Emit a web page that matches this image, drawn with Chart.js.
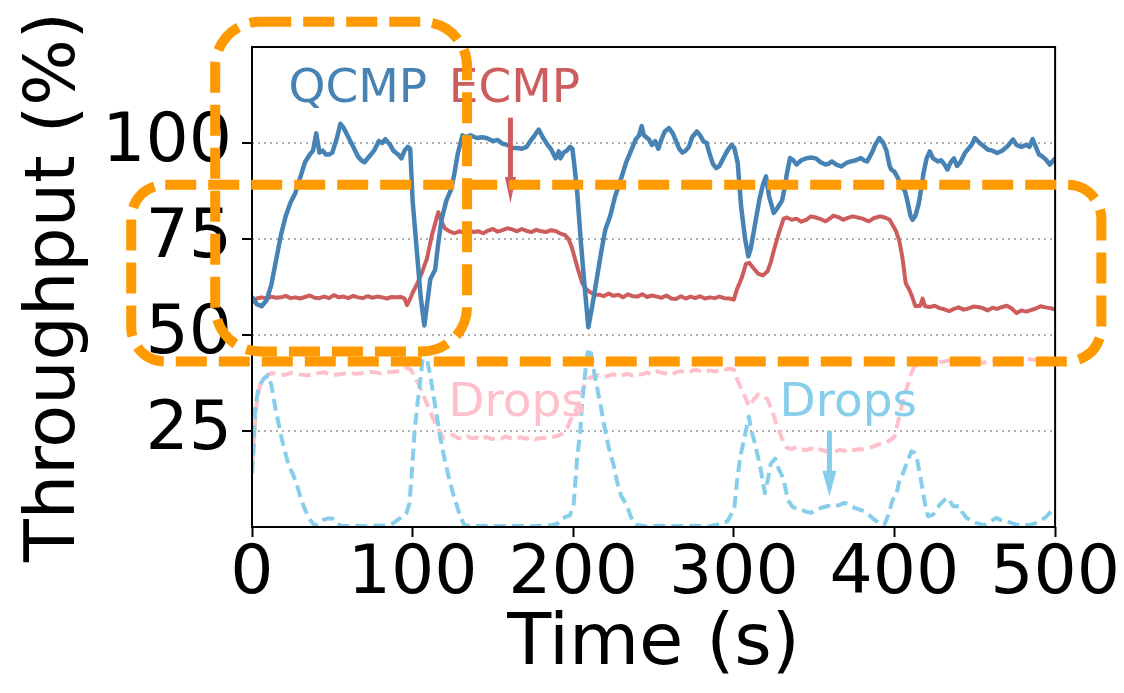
<!DOCTYPE html>
<html>
<head>
<meta charset="utf-8">
<script src="https://cdn.jsdelivr.net/npm/chart.js@4.4.1/dist/chart.umd.min.js"></script>
<style>
  html, body { margin: 0; padding: 0; background: #fff; }
</style>
</head>
<body>
<canvas id="chart" width="1124" height="693"></canvas>
<script>
// time (s) / throughput (%)
const qcmpTime = [0, 3, 6, 9, 12, 15, 18, 21, 24, 27, 30, 33, 36, 38, 40, 42, 44, 46, 48, 50, 53, 55, 57, 60, 63, 66, 68, 70, 73, 76, 79, 81, 83, 86, 88, 91, 93, 95, 97, 98.5,
  100, 103, 105, 107.3, 109, 111, 114, 116, 118, 121, 124, 126, 128, 131, 133, 136, 140, 143, 146, 150, 153, 156, 159, 162, 165, 168, 171, 174, 176, 178.5, 181, 184, 186, 189, 191, 192, 194, 196, 198, 199.5,
  201, 202.5, 204.6, 207, 209.4, 212, 215, 218, 220, 223, 226, 230, 233, 236, 239, 241, 242.6, 244, 247, 249, 251, 253, 255, 257, 259.6, 262, 264, 266, 268, 270, 272, 274, 277, 279, 281, 283, 285, 287, 289, 291, 294, 296, 298.6,
  300.3, 302.4, 304.5, 307, 309, 310.5, 312, 316, 318, 320, 322, 324.8, 327, 330, 331.5, 333, 335, 337, 339, 342, 345, 348, 351, 354, 357, 359, 361, 364, 367, 370, 373, 376, 379, 381, 383, 386, 388, 390.6, 393, 395, 397, 398,
  400, 402, 404, 406.5, 408, 410, 411.2, 413, 415, 417, 418, 420, 422, 424, 427, 429, 431, 433, 435, 437, 439, 441, 444, 446, 448, 450, 453, 456, 458, 461, 464, 467, 470, 473.8, 476, 479, 482, 484, 486, 488, 490, 492, 494, 496.7, 499, 500];
const qcmpThroughput = [60, 58, 57.5, 59, 63, 69.5, 76, 81, 84.5, 87, 91, 95, 97, 98, 102.5, 97.5, 98, 97, 97, 97.5, 101.5, 105, 104, 101.5, 99, 96.5, 95.5, 95, 96.5, 98, 100.5, 100, 101, 99.5, 98, 97, 96, 98, 99, 98.5,
  85, 70, 60, 52.5, 58, 64.5, 67, 74, 80, 85, 88, 92, 97, 102, 101.5, 102, 101.3, 101.5, 101.3, 100.5, 100.8, 99.8, 99.5, 98.7, 98.7, 98.5, 99, 100.9, 102, 103.5, 101.5, 99.5, 98.5, 96, 97.8, 96, 97.5, 98, 99, 98.5,
  93, 87, 75, 63, 52, 58, 65.5, 73, 77.5, 81, 86, 91, 95, 98, 101, 102, 104.4, 102, 101, 99.5, 100.5, 98.5, 101, 103, 103.9, 102.5, 100.5, 98.5, 97.5, 98, 99, 101.5, 103, 102, 100.5, 100, 97, 94.5, 93.5, 94, 96.5, 98, 99.5,
  98.7, 94.8, 83.5, 75, 70.5, 72.5, 76, 85.5, 89, 91.3, 86, 81.8, 83, 85, 88, 92, 96.1, 95.5, 94.4, 95.5, 96, 96.2, 96, 95, 94.4, 94.6, 95.2, 94.3, 93.9, 94.8, 95.2, 95.5, 96.1, 95.5, 95.2, 97.5, 99.5, 101.3, 100, 98, 94, 93.1,
  92.5, 91, 89, 87.5, 85, 81, 80, 81, 84, 89, 92, 96, 97.8, 96, 95.2, 95.5, 94.5, 93.1, 95, 96, 94, 95, 97.5, 98.5, 99.5, 101.3, 100, 99, 98.3, 98, 97.4, 98, 99, 100.9, 99.5, 99, 99.5, 99, 101, 99, 97, 96.5, 95.8, 94.4, 95.5, 96];

const ecmpTime = [0, 3, 6, 9, 12, 15, 18, 21, 24, 27, 30, 33, 36, 39, 42, 45, 48, 51, 54, 57, 60, 63, 66, 69, 72, 75, 78, 81, 84, 87, 90, 93, 95, 96.5, 98,
  100, 103, 106, 109, 112, 114, 116, 118, 120, 123, 126, 129, 132, 135, 138, 141, 144, 147, 150, 153, 156, 159, 162, 165, 168, 171, 174, 177, 180, 183, 186, 189, 192, 195, 197, 199,
  201, 203, 205.6, 208, 210, 213, 216, 219, 222, 225, 228, 231, 234, 237, 240, 243, 246, 249, 252, 255, 258, 261, 264, 267, 270, 273, 276, 279, 282, 285, 288, 291, 294, 297,
  300, 302, 305, 307.5, 309.5, 312, 315, 318, 321, 323, 325, 328, 331, 333, 336, 339, 342, 345, 348, 351, 354, 357, 360, 362, 365, 368, 371, 374, 377, 380, 384, 387, 391, 394, 397, 399,
  401, 403, 405, 407, 409, 411, 413, 416, 417.5, 419, 422, 425, 428, 431, 434, 437, 440, 443, 446, 449, 452, 455, 458, 461, 464, 467, 470, 473, 476, 479, 482, 485, 488, 491, 494, 497, 500];
const ecmpThroughput = [58.5, 59.5, 59.8, 59.5, 60, 59.7, 59.8, 60.2, 59.6, 59.8, 59.5, 59.9, 60.3, 59.7, 59.6, 60, 59.6, 60.4, 59.8, 60, 59.6, 60.2, 59.8, 59.6, 60.1, 59.7, 60, 59.8, 59.5, 59.9, 59.8, 59.9, 59.5, 57.8, 59,
  61, 63.5, 66.5, 70, 76, 79, 82, 79.5, 77.8, 77, 76.5, 77, 76.7, 77.3, 76.8, 77, 76.5, 77.2, 77.6, 76.9, 77.3, 77.8, 77.5, 77, 77.6, 77.1, 76.8, 77.4, 77, 76.8, 77.3, 77.1, 76.4, 76, 75, 73,
  70, 67, 63.5, 62, 61.3, 60.5, 60.5, 60.1, 60.8, 60.2, 60.5, 59.8, 60.6, 60.1, 60, 60.6, 59.9, 60.3, 60, 59.7, 60.3, 59.5, 59.4, 60.1, 59.5, 60, 59.6, 60.1, 59.5, 59.8, 59.6, 60, 59.6, 59.5,
  59.2, 62, 65, 68.5, 68.8, 67.5, 66, 65.5, 66.6, 69, 72.2, 76.5, 80.3, 80.6, 80, 80.3, 79.5, 80, 80.9, 80.6, 80.2, 79.6, 80.4, 81.1, 80.7, 80, 80.5, 80.9, 80.6, 80.3, 79.6, 80.4, 80.9, 80.6, 80, 78.5,
  77, 74.5, 70, 63.5, 62, 60, 57.5, 57.6, 59.5, 57.5, 57.3, 57.6, 57, 56.7, 56.2, 56.8, 57.2, 56.6, 56.9, 57.4, 57.3, 57, 56.4, 57.1, 56.8, 57.3, 57.6, 56.9, 55.7, 56.4, 56.1, 56.5, 56.9, 57.5, 57.2, 57, 56.6];

// drop rates, dashed lines
const qcmpDropTime = [0, 1, 2, 4, 7, 10, 12, 15, 18.5, 22.5, 25.7, 28, 30, 33, 36, 39, 42, 44, 47, 50, 53, 56, 60, 65, 70, 75, 80, 85, 88, 91, 94, 96, 98, 99.5,
  101.2, 103, 104.5, 106.9, 109, 111, 113.1, 115, 117.3, 120, 122.4, 125, 127.6, 129.7, 132, 136, 145, 155, 165, 175, 185, 190, 192, 196, 198,
  200.3, 202.5, 204.4, 205.6, 208.7, 210.3, 212, 214, 216.9, 219, 222.2, 225.2, 228, 230, 233.5, 236, 239, 245, 255, 265, 275, 285, 292, 296, 298,
  300.3, 302, 304, 306.5, 309.3, 311, 313, 316.5, 319.3, 321, 323, 325.8, 328, 331, 333.5, 336.6, 341.8, 345, 348, 351, 354.3, 358, 361.5, 365, 368.8, 372, 375, 378, 381.2, 384, 387.5, 390, 393.7, 396, 398.9,
  401.2, 403, 405.4, 408, 410.5, 412, 413.7, 416.8, 419, 420.9, 424, 426, 428.2, 431, 433.4, 436.5, 440.6, 442, 444.8, 448, 451, 456, 460, 463.5, 466, 469.7, 473, 475.9, 480, 485, 488, 490.4, 494, 496.7, 500];
const qcmpDrops = [14, 20, 31, 36, 38.5, 39.5, 37, 30, 23, 16.5, 13.5, 11, 8, 4.5, 2, 0.3, 1.2, 1.8, 2.2, 2.2, 0.8, 0.3, 0.2, 0.3, 0.2, 0.4, 0.3, 0.5, 1, 1.9, 2.8, 3.5, 6, 14,
  25, 32, 37, 46.5, 43.6, 39.5, 34, 29, 23, 17.5, 13.2, 9, 5.5, 2.8, 0.6, 0.2, 0.3, 0.2, 0.3, 0.2, 0.4, 0.8, 1.9, 2.8, 3,
  6, 18.4, 25, 33, 45, 46.6, 43, 38, 32, 27, 20.5, 16, 10.5, 8, 5.5, 2.5, 0.6, 0.2, 0.3, 0.2, 0.3, 0.2, 0.8, 1.5, 3,
  5, 12, 18.4, 23, 28.8, 25, 22, 15.5, 8.8, 12, 16.5, 17.8, 15, 12.5, 7.1, 5.2, 4.5, 4, 3.7, 4.3, 5, 5.4, 5.8, 5.6, 6.3, 5.8, 5, 4.6, 4.1, 3.2, 1.9, 1.2, 0.6, 3, 7.1,
  8.5, 12, 14.1, 17, 19.7, 19.5, 18.4, 11.5, 6, 2.8, 3.2, 4.5, 5.8, 7, 7.6, 5.4, 5.4, 4, 2.4, 1.5, 1, 0.5, 1.5, 2.4, 1.8, 1.5, 1, 0.6, 0.5, 0.6, 1, 1.5, 2.5, 3.7, 5];

const ecmpDropTime = [0, 1.5, 3, 5, 7, 10, 13, 16, 20, 25, 30, 35, 40, 45, 50, 55, 60, 65, 70, 75, 80, 85, 90, 93, 96, 99,
  101.7, 104, 107, 110, 113, 116, 119, 122, 125, 128, 131, 134, 137, 140, 143, 146, 149, 152, 155, 158, 161, 164, 167, 170, 173, 176, 179, 182, 185, 188, 191, 194, 196.5, 199,
  201, 203, 205, 207, 210, 213, 216, 219, 222, 225, 228, 231, 234, 237, 240, 243, 246, 249, 252, 255, 258, 261, 264, 267, 270, 273, 276, 279, 282, 285, 288, 291, 294, 297,
  300, 302, 304, 307, 309.5, 312, 315, 318, 321, 324, 327, 330, 333, 336, 339, 342, 345, 348, 351, 354, 357, 360, 363, 366, 369, 372, 375, 378, 381, 384, 387, 390, 393.7, 397,
  400, 403, 405, 407.4, 410, 412, 414, 417, 420, 423, 426, 430, 434, 438, 442, 446, 450, 455, 460, 465, 470, 475, 480, 485, 490, 495, 500];
const ecmpDrops = [16, 25, 32.5, 37, 38.5, 39.7, 40.1, 39.8, 39.6, 40.2, 39.7, 39.5, 40, 40.3, 39.6, 39.8, 40.2, 39.9, 40.1, 40.4, 40, 40.3, 40.5, 40.8, 41.4, 41,
  38.8, 37, 34, 31, 28, 25.5, 23.2, 23.5, 24, 23.2, 23, 23.6, 23.1, 23.3, 22.8, 23.5, 22.9, 23.2, 23, 23.6, 23.1, 22.9, 23.4, 23, 23.3, 22.8, 23.1, 23.2, 22.9, 23.5, 23.8, 24.5, 26, 28.5,
  30, 31.5, 34.5, 37, 38.8, 39.2, 39.5, 39, 39.4, 39.8, 39.2, 39.6, 39.9, 39.4, 39.7, 39.8, 40.2, 39.7, 40.5, 40.2, 40, 39.6, 40.3, 40.6, 40.2, 40.5, 41, 40.6, 40.3, 40.8, 40.5, 40.7, 41, 41.2,
  41, 38.5, 36.5, 33.8, 31.4, 33, 34.5, 34.3, 33.2, 30, 26.2, 23, 20.6, 20.3, 20.8, 20.2, 20, 20.5, 19.8, 20.2, 19.7, 20.3, 19.7, 20.1, 19.8, 20.4, 20, 20.3, 20.2, 20.6, 21, 21.5, 21.9, 22.5,
  23.6, 28.8, 32.5, 35.8, 39.5, 41.5, 42.2, 42.7, 42.8, 43, 43.2, 43, 43.4, 43.2, 42.9, 43.3, 43.1, 42.8, 43.2, 43.5, 43.8, 43.6, 44, 43.6, 43.4, 43.6, 43.2];

const xTicks = [0, 100, 200, 300, 400, 500];
const yTicks = [25, 50, 75, 100];

const toPoints = (t, v) => t.map((x, i) => ({ x: x, y: v[i] }));

// in-plot labels and arrows, placed in data units
const labels = [
  { text: 'QCMP', x: 65.9, y: 110.6, color: '#4682b4' },
  { text: 'ECMP', x: 163.4, y: 110.6, color: '#cd5c5c' },
  { text: 'Drops', x: 165, y: 28.8, color: '#ffc0cb' },
  { text: 'Drops', x: 371.2, y: 28.8, color: '#87ceeb' }
];
const arrows = [
  { x: 160.9, from: 106.6, to: 84.4, color: '#cd5c5c', head: 11 },
  { x: 359.5, from: 25, to: 7.9, color: '#87ceeb', head: 14 }
];
// orange highlight boxes (data units, they run past the axes)
const boxes = [
  { x0: -22.9, x1: 133.9, y0: 131.6, y1: 45.7, r: 45 },
  { x0: -75.2, x1: 528.8, y0: 89.1, y1: 43.1, r: 34 }
];

const overlay = {
  id: 'overlay',
  afterDatasetsDraw(chart) {
    const { ctx, chartArea: a, scales: { x, y } } = chart;
    ctx.save();
    ctx.strokeStyle = '#000';
    ctx.lineWidth = 2;
    ctx.strokeRect(a.left, a.top, a.right - a.left, a.bottom - a.top);

    ctx.font = '47px "DejaVu Sans"';
    ctx.textAlign = 'center';
    ctx.textBaseline = 'alphabetic';
    labels.forEach(l => {
      ctx.fillStyle = l.color;
      ctx.fillText(l.text, x.getPixelForValue(l.x), y.getPixelForValue(l.y));
    });

    arrows.forEach(ar => {
      const px = x.getPixelForValue(ar.x);
      const y0 = y.getPixelForValue(ar.from);
      const y1 = y.getPixelForValue(ar.to);
      const hl = 26;
      ctx.strokeStyle = ar.color;
      ctx.fillStyle = ar.color;
      ctx.lineWidth = 5;
      ctx.beginPath();
      ctx.moveTo(px, y0);
      ctx.lineTo(px, y1 - hl + 2);
      ctx.stroke();
      ctx.beginPath();
      ctx.moveTo(px - ar.head / 2, y1 - hl);
      ctx.lineTo(px + ar.head / 2, y1 - hl);
      ctx.lineTo(px, y1);
      ctx.closePath();
      ctx.fill();
    });
    ctx.restore();
  },
  afterDraw(chart) {
    const { ctx, scales: { x, y } } = chart;
    ctx.save();
    ctx.strokeStyle = '#ff9900';
    ctx.lineWidth = 10;
    ctx.setLineDash([31, 12]);
    boxes.forEach(b => {
      const l = x.getPixelForValue(b.x0), r = x.getPixelForValue(b.x1);
      const t = y.getPixelForValue(b.y0), btm = y.getPixelForValue(b.y1);
      ctx.beginPath();
      ctx.roundRect(l, t, r - l, btm - t, b.r);
      ctx.stroke();
    });
    ctx.restore();
  }
};

const font = '"DejaVu Sans", sans-serif';

new Chart(document.getElementById('chart'), {
  type: 'line',
  data: {
    datasets: [
      { label: 'QCMP', data: toPoints(qcmpTime, qcmpThroughput), borderColor: '#4682b4', borderWidth: 4.5 },
      { label: 'ECMP', data: toPoints(ecmpTime, ecmpThroughput), borderColor: '#cd5c5c', borderWidth: 4 },
      { label: 'QCMP drops', data: toPoints(qcmpDropTime, qcmpDrops), borderColor: '#87ceeb', borderWidth: 4, borderDash: [12, 6] },
      { label: 'ECMP drops', data: toPoints(ecmpDropTime, ecmpDrops), borderColor: '#ffc0cb', borderWidth: 4, borderDash: [12, 6] }
    ]
  },
  options: {
    responsive: false,
    animation: false,
    devicePixelRatio: 1,
    elements: { point: { radius: 0 }, line: { tension: 0, fill: false, borderJoinStyle: 'round' } },
    layout: { padding: { top: 47, right: 67, left: 0, bottom: 0 } },
    plugins: { legend: { display: false }, tooltip: { enabled: false } },
    scales: {
      x: {
        type: 'linear',
        min: 0,
        max: 500,
        afterBuildTicks: s => { s.ticks = xTicks.map(v => ({ value: v })); },
        afterFit: s => { s.height = 166; },
        grid: { drawOnChartArea: false, drawTicks: true, tickLength: 10, tickColor: '#000', tickWidth: 2 },
        border: { display: false },
        ticks: { color: '#000', padding: 4, maxRotation: 0, font: { family: font, size: 68, lineHeight: 1 } },
        title: { display: true, text: 'Time (s)', color: '#000', padding: { top: 0, bottom: 12 }, font: { family: font, size: 72, lineHeight: 1 } }
      },
      y: {
        type: 'linear',
        min: 0,
        max: 125,
        afterBuildTicks: s => { s.ticks = yTicks.map(v => ({ value: v })); },
        afterFit: s => { s.width = 252; },
        grid: { color: '#b0b0b0', lineWidth: 2, drawTicks: true, tickLength: 10, tickColor: '#000', tickWidth: 2, tickBorderDash: [] },
        border: { display: false, dash: [2, 4] },
        ticks: { color: '#000', padding: 10, font: { family: font, size: 68, lineHeight: 1 } },
        title: { display: true, text: 'Throughput (%)', color: '#000', padding: { top: 21, bottom: 0 }, font: { family: font, size: 70, lineHeight: 1 } }
      }
    }
  },
  plugins: [overlay]
});
</script>
</body>
</html>
